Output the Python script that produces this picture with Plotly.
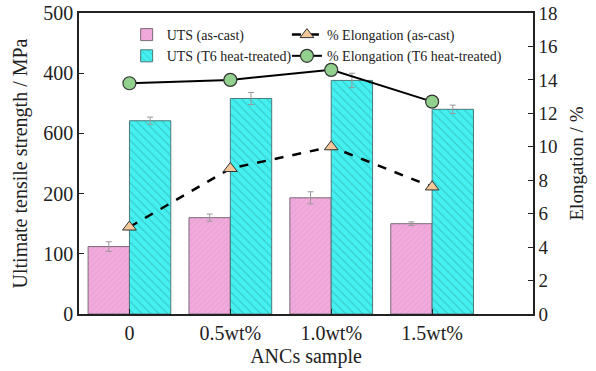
import plotly.graph_objects as go

samples = ["0", "0.5wt%", "1.0wt%", "1.5wt%"]
uts_cast = [112, 160, 193, 150]
uts_cast_err = [8, 6, 10, 3]
uts_t6 = [321, 358, 388, 340]
uts_t6_err = [6, 10, 12, 7]
elong_cast = [5.2, 8.7, 10.0, 7.6]
elong_t6 = [13.8, 14.0, 14.6, 12.7]

left_ticks = [0, 100, 200, 300, 400, 500]
left_ticktext = ["0", "100", "200", "600", "400", "500"]

FONT = "Liberation Serif, Times New Roman, serif"

fig = go.Figure()
fig.add_trace(go.Bar(
    x=samples, y=uts_cast, name="UTS (as-cast)", legend="legend",
    marker=dict(color="#f2aadd", line=dict(color="#7a6a78", width=1),
                pattern=dict(shape="/", fgcolor="#c98ab8", size=4, solidity=0.2, fillmode="overlay")),
    error_y=dict(type="data", array=uts_cast_err, color="#999999", thickness=1, width=3),
    offsetgroup="a", yaxis="y",
))
fig.add_trace(go.Bar(
    x=samples, y=uts_t6, name="UTS (T6 heat-treated)", legend="legend",
    marker=dict(color="#45f0f0", line=dict(color="#4a7a7a", width=1),
                pattern=dict(shape="\\", fgcolor="#2a9a9a", size=6, solidity=0.18, fillmode="overlay")),
    error_y=dict(type="data", array=uts_t6_err, color="#999999", thickness=1, width=3),
    offsetgroup="b", yaxis="y",
))
fig.add_trace(go.Scatter(
    x=samples, y=elong_cast, name="% Elongation (as-cast)", yaxis="y2", legend="legend2",
    mode="lines+markers",
    line=dict(color="black", width=2.5, dash="dash"),
    marker=dict(symbol="triangle-up", size=12, color="#f2c79a", line=dict(color="#333333", width=1)),
))
fig.add_trace(go.Scatter(
    x=samples, y=elong_t6, name="% Elongation (T6 heat-treated)", yaxis="y2", legend="legend2",
    mode="lines+markers",
    line=dict(color="black", width=2),
    marker=dict(symbol="circle", size=13, color="#92d08e", line=dict(color="#333333", width=1.2)),
))

legend_common = dict(orientation="v", yanchor="top", xanchor="left",
                     font=dict(family=FONT, size=14), bgcolor="rgba(0,0,0,0)",
                     tracegroupgap=0, itemwidth=30, traceorder="normal")

fig.update_layout(
    width=596, height=371,
    margin=dict(l=79, r=63, t=13, b=57),
    paper_bgcolor="white", plot_bgcolor="white",
    font=dict(family=FONT, size=20, color="#222222"),
    barmode="group", bargap=0.18, bargroupgap=0,
    showlegend=True,
    legend=dict(x=0.105, y=0.98, **legend_common),
    legend2=dict(x=0.458, y=0.98, **legend_common),
    xaxis=dict(
        type="category", range=[-0.5, 4.0], automargin=False,
        title=dict(text="ANCs sample", standoff=6, font=dict(size=20)),
        showline=True, linecolor="#222222", linewidth=1.5, mirror=True,
        ticks="inside", ticklen=5, tickcolor="#222222",
        showgrid=False, tickfont=dict(size=20),
    ),
    yaxis=dict(
        range=[0, 500], tickvals=left_ticks, ticktext=left_ticktext, automargin=False,
        title=dict(text="Ultimate tensile strength / MPa", standoff=10, font=dict(size=20)),
        showline=True, linecolor="#222222", linewidth=1.5,
        ticks="inside", ticklen=5, tickcolor="#222222",
        showgrid=False, zeroline=False, tickfont=dict(size=20),
    ),
    yaxis2=dict(
        range=[0, 18], dtick=2, overlaying="y", side="right", automargin=False,
        title=dict(text="Elongation / %", standoff=13, font=dict(size=19)),
        showline=True, linecolor="#222222", linewidth=1.5,
        ticks="inside", ticklen=5, tickcolor="#222222",
        showgrid=False, zeroline=False, tickfont=dict(size=19),
    ),
)

fig.write_html("out.html")
